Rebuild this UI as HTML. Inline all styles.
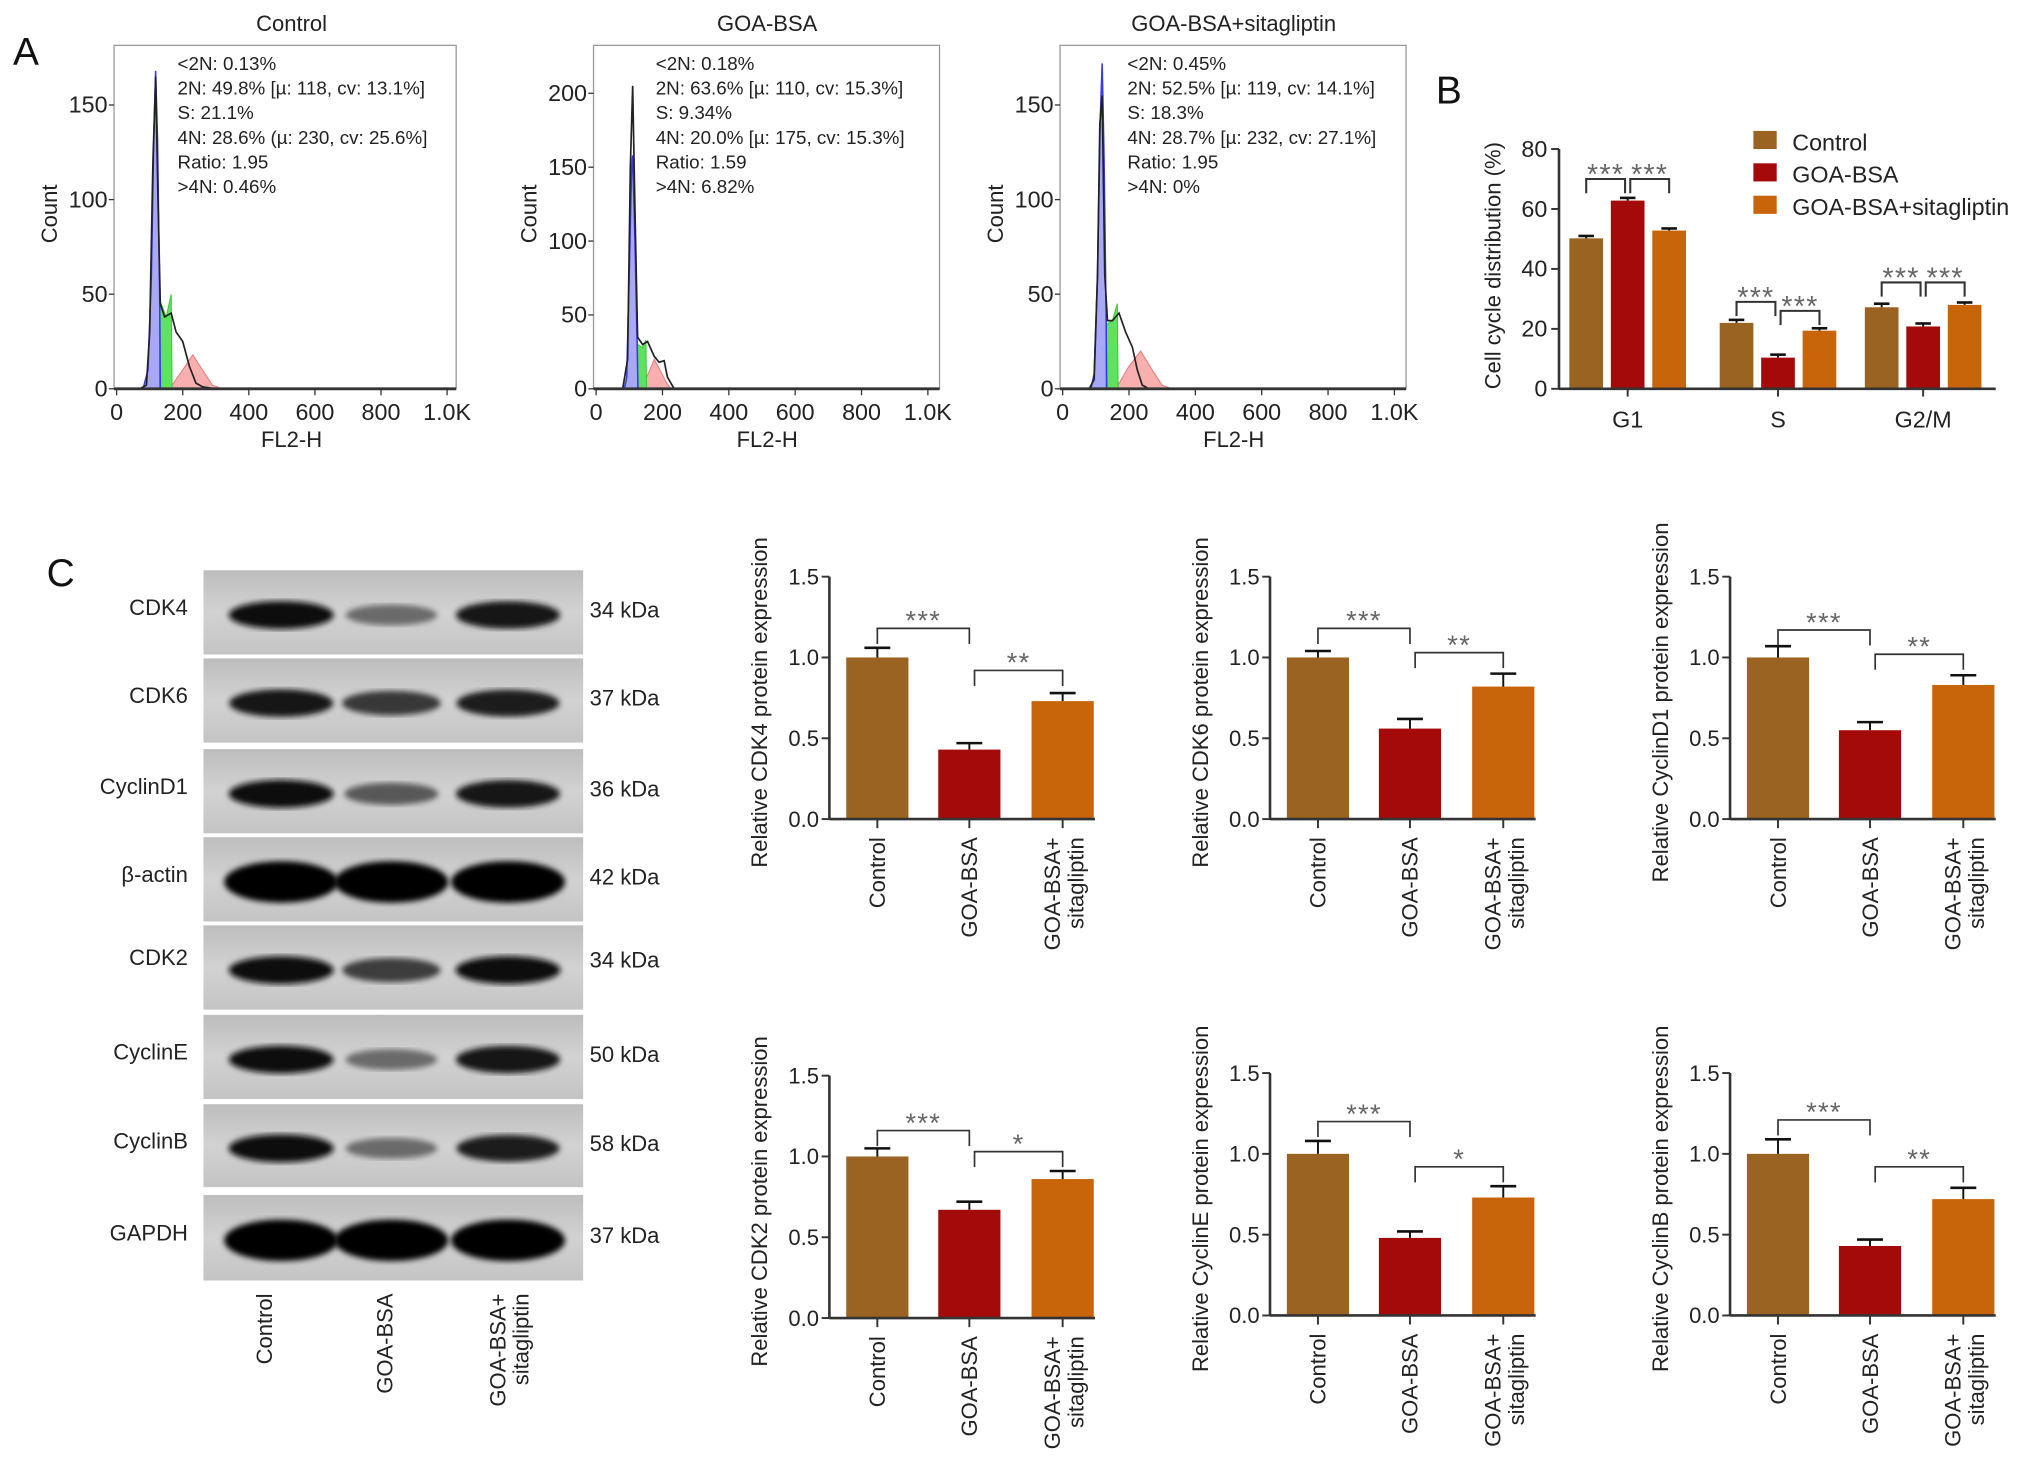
<!DOCTYPE html>
<html><head><meta charset="utf-8"><style>
html,body{margin:0;padding:0;background:#fff;}
svg{display:block;font-family:"Liberation Sans",Arial,sans-serif;}
</style></head><body>
<svg id="fig" width="2032" height="1471" viewBox="0 0 1568 1135" preserveAspectRatio="none" xmlns="http://www.w3.org/2000/svg">
<defs>
<linearGradient id="blotbg" x1="0" y1="0" x2="0" y2="1"><stop offset="0" stop-color="#bdbdbd"/><stop offset="0.5" stop-color="#d2d2d2"/><stop offset="1" stop-color="#c4c4c4"/></linearGradient>
<filter id="blur"><feGaussianBlur stdDeviation="2.2"/></filter>
</defs>
<g id="root"></g>
</svg>
<script>
// ---------- Panel A data ----------
const histTitles = ["Control","GOA-BSA","GOA-BSA+sitagliptin"];
const histStats = [
 ["<2N: 0.13%","2N: 49.8% [µ: 118, cv: 13.1%]","S: 21.1%","4N: 28.6% (µ: 230, cv: 25.6%]","Ratio: 1.95",">4N: 0.46%"],
 ["<2N: 0.18%","2N: 63.6% [µ: 110, cv: 15.3%]","S: 9.34%","4N: 20.0% [µ: 175, cv: 15.3%]","Ratio: 1.59",">4N: 6.82%"],
 ["<2N: 0.45%","2N: 52.5% [µ: 119, cv: 14.1%]","S: 18.3%","4N: 28.7% [µ: 232, cv: 27.1%]","Ratio: 1.95",">4N: 0%"]
];
const histYTicks = [[0,50,100,150],[0,50,100,150,200],[0,50,100,150]];
const histXTicks = [0,200,400,600,800,1000];
const histXTickLabels = ["0","200","400","600","800","1.0K"];
const blackCurve = [
 [[0,0],[70,0],[90,2],[100,30],[110,120],[118,165],[125,100],[132,45],[145,38],[165,40],[180,30],[200,25],[220,12],[240,3],[260,1],[300,0],[1000,0]],
 [[0,0],[80,0],[95,20],[103,150],[110,205],[117,120],[125,35],[140,30],[155,32],[175,22],[190,18],[205,19],[215,8],[235,0],[1000,0]],
 [[0,0],[80,0],[95,5],[105,60],[112,140],[119,155],[127,60],[135,36],[150,36],[170,40],[190,30],[210,22],[225,10],[240,2],[260,0],[1000,0]]
];
const blueFill = [
 [[80,0],[95,10],[105,60],[112,130],[118,168],[124,130],[130,50],[132,0]],
 [[85,0],[92,8],[100,80],[107,150],[110,158],[117,100],[124,30],[126,0]],
 [[85,0],[95,8],[105,60],[113,140],[119,172],[125,120],[131,40],[133,0]]
];
const greenFill = [
 [[130,0],[130,47],[150,38],[165,50],[168,0]],
 [[125,0],[125,30],[140,28],[150,33],[152,0]],
 [[131,0],[131,34],[150,36],[165,45],[167,0]]
];
const redFill = [
 [[160,0],[200,10],[230,18],[260,10],[290,2],[320,0]],
 [[135,0],[160,12],[175,20],[190,14],[210,5],[225,0]],
 [[160,0],[200,12],[235,20],[270,10],[300,2],[330,0]]
];
// ---------- Panel B data ----------
const phaseCats = ["G1","S","G2/M"];
const phaseControl = [50.2, 22.0, 27.2];
const phaseGOA = [62.8, 10.4, 20.8];
const phaseSita = [52.8, 19.4, 28.0];
const phaseErrControl = [0.8, 1.0, 1.2];
const phaseErrGOA = [0.9, 1.0, 1.0];
const phaseErrSita = [0.7, 0.8, 0.8];
const phaseSigLevels = [[70,70],[29,26],[35.5,35.5]];
const phaseYTicks = [0,20,40,60,80];
const groupNames = ["Control","GOA-BSA","GOA-BSA+sitagliptin"];
// ---------- Panel C data ----------
const proteins = ["CDK4","CDK6","CyclinD1","CDK2","CyclinE","CyclinB"];
const protMeans = [[1.0,0.43,0.73],[1.0,0.56,0.82],[1.0,0.55,0.83],[1.0,0.67,0.86],[1.0,0.48,0.73],[1.0,0.43,0.72]];
const protErrs = [[0.06,0.04,0.05],[0.04,0.06,0.08],[0.07,0.05,0.06],[0.05,0.05,0.05],[0.08,0.04,0.07],[0.09,0.04,0.07]];
const sigLabels = [["***","**"],["***","**"],["***","**"],["***","*"],["***","*"],["***","**"]];
const sigLevels = [[1.18,0.92],[1.18,1.03],[1.17,1.02],[1.16,1.03],[1.20,0.92],[1.21,0.92]];
const protYTicks = [0,0.5,1.0,1.5];
const blotRows = ["CDK4","CDK6","CyclinD1","β-actin","CDK2","CyclinE","CyclinB","GAPDH"];
const blotKDa = ["34 kDa","37 kDa","36 kDa","42 kDa","34 kDa","50 kDa","58 kDa","37 kDa"];
const blotIntensity = [[0.95,0.45,0.92],[0.92,0.72,0.88],[0.95,0.55,0.92],[1,1,1],[0.95,0.7,0.95],[0.94,0.45,0.92],[0.96,0.45,0.88],[1,1,1]];

const NS="http://www.w3.org/2000/svg";
const root=document.getElementById('root');
function mk(tag,attrs,parent,text){const e=document.createElementNS(NS,tag);for(const k in attrs)e.setAttribute(k,attrs[k]);if(text!==undefined)e.textContent=text;(parent||root).appendChild(e);return e;}
const colors=["#9a6322","#a50a0a","#c8650a"];

// ---------- Panel A ----------
let t=mk('text',{x:10,y:50,'font-size':30,fill:'#111'},root,'A');


const histCfg=[{x0:90,xk:345,bl:88,br:352,ppu:1.46,cx:225,tx:137,cl:38},{x0:460,xk:716,bl:458,br:725,ppu:1.14,cx:592,tx:506,cl:408},{x0:820,xk:1076,bl:818,br:1085,ppu:1.46,cx:952,tx:870,cl:768}];
histCfg.forEach((c,i)=>{
 const g=mk('g',{});
 
 
 const X=v=>c.x0+v/1000*(c.xk-c.x0), Y=v=>300-v*c.ppu;
 const pts=a=>a.map(p=>X(p[0]).toFixed(1)+','+Math.max(35,Y(p[1])).toFixed(1)).join(' ');
 let e=mk('polygon',{points:pts(redFill[i]),fill:'rgba(240,110,110,0.55)',stroke:'rgba(220,90,90,0.7)','stroke-width':0.8},g);
 
 
 e=mk('polygon',{points:pts(greenFill[i]),fill:'#5fe35f',stroke:'#3bc83b','stroke-width':0.8},g);
 
 
 e=mk('polygon',{points:pts(blueFill[i]),fill:'rgba(110,110,240,0.6)',stroke:'#3a3ae0','stroke-width':1.2},g);
 
 
 e=mk('polyline',{points:pts(blackCurve[i]),fill:'none',stroke:'#222','stroke-width':1.3},g);
 
 
 e=mk('rect',{x:c.bl,y:35,width:c.br-c.bl,height:265,fill:'none',stroke:'#999','stroke-width':1},g);
 
 
 mk('line',{x1:c.bl,y1:300,x2:c.br,y2:300,stroke:'#333','stroke-width':2.2},g);
 histYTicks[i].forEach(v=>{mk('line',{x1:c.bl-4,y1:Y(v),x2:c.bl,y2:Y(v),stroke:'#333'},g);
  e=mk('text',{x:c.bl-5,y:Y(v)+6,'font-size':18,'text-anchor':'end',fill:'#222'},g,String(v));
  
  });
 histXTicks.forEach((v,j)=>{mk('line',{x1:X(v),y1:300,x2:X(v),y2:305,stroke:'#333'},g);
  e=mk('text',{x:X(v),y:324,'font-size':18,'text-anchor':'middle',fill:'#222'},g,histXTickLabels[j]);
  
  });
 e=mk('text',{x:c.cx,y:345,'font-size':17,'text-anchor':'middle',fill:'#222'},g,'FL2-H');
 
 
 e=mk('text',{x:c.cx,y:24,'font-size':17,'text-anchor':'middle',fill:'#222'},g,histTitles[i]);
 
 
 e=mk('text',{x:0,y:0,'font-size':17,'text-anchor':'middle',fill:'#222',transform:`translate(${c.cl+6},165) rotate(-90)`},g,'Count');
 
 
 histStats[i].forEach((s,j)=>{e=mk('text',{x:c.tx,y:54+j*19,'font-size':14.5,fill:'#222'},g,s);
  
  });
});

// ---------- Panel B ----------
t=mk('text',{x:1108,y:80,'font-size':30,fill:'#111'},root,'B');


(function(){
 const g=mk('g',{});
 
 
 const ax=1203, y0=300, ppu=(300-115)/80;
 const Y=v=>y0-v*ppu; const groupC=[1256,1372,1484]; const off=[-32,0,32]; const bw=26;
 const series=[phaseControl,phaseGOA,phaseSita], errs=[phaseErrControl,phaseErrGOA,phaseErrSita];
 phaseCats.forEach((cat,ci)=>{
  series.forEach((s,si)=>{
   const cx=groupC[ci]+off[si];
   let e=mk('rect',{x:cx-bw/2,y:Y(s[ci]),width:bw,height:y0-Y(s[ci]),fill:colors[si]},g);
   
   
   const ey=Y(s[ci]+errs[si][ci]);
   mk('line',{x1:cx,y1:Y(s[ci]),x2:cx,y2:ey,stroke:'#111','stroke-width':1.5},g);
   mk('line',{x1:cx-6,y1:ey,x2:cx+6,y2:ey,stroke:'#111','stroke-width':2},g);
  });
  let e=mk('text',{x:groupC[ci],y:330,'font-size':18,'text-anchor':'middle',fill:'#222'},g,cat);
  
  
  mk('line',{x1:groupC[ci],y1:y0,x2:groupC[ci],y2:y0+6,stroke:'#333','stroke-width':1.5},g);
  [[0,1],[1,2]].forEach((p,k)=>{
   const yb=Y(phaseSigLevels[ci][k]);
   const xa=groupC[ci]+off[p[0]]+(k===1?2:0), xb=groupC[ci]+off[p[1]]-(k===0?2:0);
   mk('polyline',{points:`${xa},${yb+11} ${xa},${yb} ${xb},${yb} ${xb},${yb+11}`,fill:'none',stroke:'#333','stroke-width':1.6},g);
   e=mk('text',{x:(xa+xb)/2,y:yb+4,'font-size':22,'text-anchor':'middle',fill:'#666','letter-spacing':'1'},g,'***');
   
   
  });
 });
 mk('line',{x1:ax,y1:y0,x2:1540,y2:y0,stroke:'#333','stroke-width':2},g);
 mk('line',{x1:ax,y1:y0,x2:ax,y2:Y(80),stroke:'#333','stroke-width':2},g);
 phaseYTicks.forEach(v=>{mk('line',{x1:ax-6,y1:Y(v),x2:ax,y2:Y(v),stroke:'#333','stroke-width':1.5},g);
  let e=mk('text',{x:ax-9,y:Y(v)+6,'font-size':18,'text-anchor':'end',fill:'#222'},g,String(v));
  
  });
 let e=mk('text',{x:0,y:0,'font-size':17,'text-anchor':'middle',fill:'#222',transform:'translate(1158,205) rotate(-90)'},g,'Cell cycle distribution (%)');
 
 
 groupNames.forEach((n,i)=>{
  const lg=mk('g',{},g);
  
  
  mk('rect',{x:1353,y:101+i*25,width:18,height:14,fill:colors[i]},lg);
  mk('text',{x:1383,y:116+i*25,'font-size':18,fill:'#222'},lg,n);
 });
})();

// ---------- Panel C: western blot ----------
t=mk('text',{x:36,y:452,'font-size':30,fill:'#111'},root,'C');


(function(){
 const g=mk('g',{});
 
 
 const rowsY=[[440,505],[508,573],[578,643],[646,711],[714,779],[783,848],[852,916],[922,988]];
 const laneX=[217,302,392];
 blotRows.forEach((r,i)=>{
  const [a,b]=rowsY[i], mid=(a+b)/2;
  let e=mk('rect',{x:157,y:a,width:293,height:b-a,fill:'url(#blotbg)'},g);
  
  
  blotIntensity[i].forEach((v,j)=>{
   const w=(blotIntensity[i][0]===1?88:82)*(0.75+0.25*v), h=(blotIntensity[i][0]===1?32:22)*(0.5+0.5*v);
   const shade=Math.round(190-185*v);
   e=mk('ellipse',{cx:laneX[j],cy:mid+2,rx:w/2,ry:h/2,fill:`rgb(${shade},${shade},${shade})`,filter:'url(#blur)'},g);
   
   
  });
  e=mk('text',{x:145,y:(i===4?mid-4:mid)+2,'font-size':17,'text-anchor':'end',fill:'#222'},g,r);
  
  
  e=mk('text',{x:455,y:(i===4?mid-4:mid)+4,'font-size':17,fill:'#222'},g,blotKDa[i]);
  
  
 });
 const labs=[["Control"],["GOA-BSA"],["GOA-BSA+","sitagliptin"]];
 labs.forEach((l,j)=>{l.forEach((s,k)=>{
  const x=[210,303,390][j]+k*18;
  const e=mk('text',{x:0,y:0,'font-size':17,'text-anchor':'end',fill:'#222',transform:`translate(${x},998) rotate(-90)`},g,s);
  
  
 });});
})();

// ---------- Panel C: bar charts ----------
const chartPos=[[640,632],[980,632],[1335,632],[640,1017],[980,1015],[1335,1015]];
proteins.forEach((p,pi)=>{
 const g=mk('g',{});
 
 
 const [ax,y0]=chartPos[pi]; const ppu=124.7; const Y=v=>y0-v*ppu;
 const cxs=[ax+37,ax+108,ax+180]; const bw=48;
 protMeans[pi].forEach((v,i)=>{
  let e=mk('rect',{x:cxs[i]-bw/2,y:Y(v),width:bw,height:y0-Y(v),fill:colors[i]},g);
  
  
  const ey=Y(v+protErrs[pi][i]);
  mk('line',{x1:cxs[i],y1:Y(v),x2:cxs[i],y2:ey,stroke:'#111','stroke-width':1.5},g);
  mk('line',{x1:cxs[i]-10,y1:ey,x2:cxs[i]+10,y2:ey,stroke:'#111','stroke-width':2},g);
  mk('line',{x1:cxs[i],y1:y0,x2:cxs[i],y2:y0+7,stroke:'#333','stroke-width':1.5},g);
 });
 mk('line',{x1:ax,y1:y0,x2:ax+205,y2:y0,stroke:'#333','stroke-width':2},g);
 mk('line',{x1:ax,y1:y0,x2:ax,y2:Y(1.5),stroke:'#333','stroke-width':2},g);
 protYTicks.forEach(v=>{mk('line',{x1:ax-6,y1:Y(v),x2:ax,y2:Y(v),stroke:'#333','stroke-width':1.5},g);
  const e=mk('text',{x:ax-8,y:Y(v)+6,'font-size':17,'text-anchor':'end',fill:'#222'},g,v.toFixed(1));
  
  });
 let e=mk('text',{x:0,y:0,'font-size':17,'text-anchor':'middle',fill:'#222',transform:`translate(${ax-48},${y0-90}) rotate(-90)`},g,'Relative '+p+' protein expression');
 
 
 const labs=[["Control"],["GOA-BSA"],["GOA-BSA+","sitagliptin"]];
 labs.forEach((l,j)=>{l.forEach((s,k)=>{
  const tx=cxs[j]+6+(l.length>1?(k===0?-8:10):0);
  const te=mk('text',{x:0,y:0,'font-size':17,'text-anchor':'end',fill:'#222',transform:`translate(${tx},${y0+14}) rotate(-90)`},g,s);
  
  
 });});
 [[0,1],[1,2]].forEach((pr,k)=>{
  const yb=Y(sigLevels[pi][k]);
  const xa=cxs[pr[0]]+(k===1?4:0), xb=cxs[pr[1]];
  mk('polyline',{points:`${xa},${yb+12} ${xa},${yb} ${xb},${yb} ${xb},${yb+12}`,fill:'none',stroke:'#333','stroke-width':1.3},g);
  const se=mk('text',{x:(xa+xb)/2,y:yb+1,'font-size':21,'text-anchor':'middle',fill:'#666','letter-spacing':'1'},g,sigLabels[pi][k]);
  
  
 });
});
</script>
</body></html>
